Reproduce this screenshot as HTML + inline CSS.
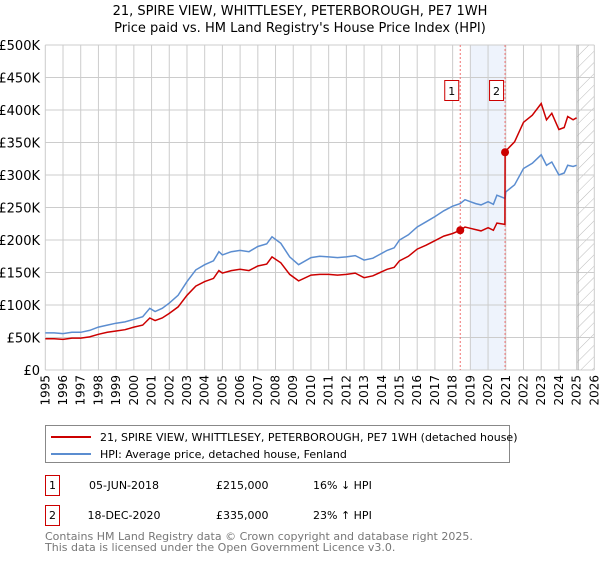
<!DOCTYPE html>
<html><head><meta charset="utf-8"><style>
body{margin:0;background:#fff;font-family:"Liberation Sans","DejaVu Sans",sans-serif;}
svg text{font-family:"DejaVu Sans","Liberation Sans",sans-serif;}
</style></head><body>
<svg id="chart" width="600" height="560" xmlns="http://www.w3.org/2000/svg">
<defs><pattern id="hatch" width="8" height="8" patternUnits="userSpaceOnUse" patternTransform="rotate(45)"><line x1="0" y1="0" x2="0" y2="8" stroke="#bbb" stroke-width="1"/></pattern></defs>
<text x="300" y="15" text-anchor="middle" font-size="13">21, SPIRE VIEW, WHITTLESEY, PETERBOROUGH, PE7 1WH</text>
<text x="300" y="32" text-anchor="middle" font-size="13">Price paid vs. HM Land Registry's House Price Index (HPI)</text>
<g id="plot"></g>
<g>
<rect x="45.5" y="425.5" width="464" height="37" fill="#fff" stroke="#888"/>
<line x1="51" y1="437" x2="91" y2="437" stroke="#cc0000" stroke-width="2"/>
<text x="100" y="441" font-size="11">21, SPIRE VIEW, WHITTLESEY, PETERBOROUGH, PE7 1WH (detached house)</text>
<line x1="51" y1="454" x2="91" y2="454" stroke="#5b8dd0" stroke-width="2"/>
<text x="100" y="458" font-size="11">HPI: Average price, detached house, Fenland</text>
</g>
<g font-size="11">
<rect x="45.5" y="475.5" width="14" height="20" fill="#fff" stroke="#cc0000"/>
<text x="52.5" y="489" text-anchor="middle">1</text>
<text x="124" y="489" text-anchor="middle">05-JUN-2018</text>
<text x="216" y="489">£215,000</text>
<text x="313" y="489">16% ↓ HPI</text>
<rect x="45.5" y="505.5" width="14" height="20" fill="#fff" stroke="#cc0000"/>
<text x="52.5" y="519" text-anchor="middle">2</text>
<text x="124" y="519" text-anchor="middle">18-DEC-2020</text>
<text x="216" y="519">£335,000</text>
<text x="313" y="519">23% ↑ HPI</text>
</g>
<text x="45" y="540" font-size="11" fill="#777">Contains HM Land Registry data © Crown copyright and database right 2025.</text>
<text x="45" y="551" font-size="11" fill="#777">This data is licensed under the Open Government Licence v3.0.</text>
</svg>
<script>
const hpiYears=[1995,1995.5,1996,1996.5,1997,1997.5,1998,1998.5,1999,1999.5,2000,2000.5,2000.9,2001.2,2001.6,2002,2002.5,2003,2003.5,2004,2004.5,2004.8,2005,2005.5,2006,2006.5,2007,2007.5,2007.8,2008.3,2008.8,2009.3,2010,2010.5,2011,2011.5,2012,2012.5,2013,2013.5,2014.3,2014.7,2015,2015.5,2016,2016.5,2017,2017.5,2018,2018.43,2018.7,2019,2019.3,2019.6,2020,2020.3,2020.5,2020.96,2021,2021.5,2022,2022.5,2023,2023.3,2023.6,2024,2024.3,2024.5,2024.8,2025];
const hpiValues=[57,57,56,58,58,61,66,69,72,74,78,82,95,90,95,103,115,136,154,162,168,182,177,182,184,182,190,194,205,195,174,162,173,175,174,173,174,176,169,172,184,188,200,208,220,228,236,245,252,256,262,259,256,254,259,255,269,264,274,285,310,318,331,315,320,300,303,315,313,315];
const ppYears=[1995,1995.5,1996,1996.5,1997,1997.5,1998,1998.5,1999,1999.5,2000,2000.5,2000.9,2001.2,2001.6,2002,2002.5,2003,2003.5,2004,2004.5,2004.8,2005,2005.5,2006,2006.5,2007,2007.5,2007.8,2008.3,2008.8,2009.3,2010,2010.5,2011,2011.5,2012,2012.5,2013,2013.5,2014.3,2014.7,2015,2015.5,2016,2016.5,2017,2017.5,2018,2018.43,2018.7,2019,2019.3,2019.6,2020,2020.3,2020.5,2020.95,2020.96,2021,2021.5,2022,2022.5,2023,2023.3,2023.6,2024,2024.3,2024.5,2024.8,2025];
const ppValues=[48,48,47,49,49,51,55,58,60,62,66,69,80,76,80,87,97,115,129,136,141,153,149,153,155,153,160,163,174,165,147,137,146,147,147,146,147,149,142,145,155,158,168,175,186,192,199,206,210,215,220,218,216,214,219,215,226,224,335,337,351,381,392,410,385,395,370,373,390,385,388];
const yTicks=[0,50,100,150,200,250,300,350,400,450,500];
const yTickLabels=["£0","£50K","£100K","£150K","£200K","£250K","£300K","£350K","£400K","£450K","£500K"];
const xTicks=[1995,1996,1997,1998,1999,2000,2001,2002,2003,2004,2005,2006,2007,2008,2009,2010,2011,2012,2013,2014,2015,2016,2017,2018,2019,2020,2021,2022,2023,2024,2025,2026];
const saleYears=[2018.43,2020.96];
const saleValues=[215,335];
const saleLabels=["1","2"];

const NS="http://www.w3.org/2000/svg";
const X=y=>45.3+(y-1995)*17.71;
const Y=v=>370-v*0.65;
const plot=document.getElementById('plot');
function mk(tag,attrs,parent){const e=document.createElementNS(NS,tag);for(const k in attrs)e.setAttribute(k,attrs[k]);(parent||plot).appendChild(e);return e;}
// shading between sales
const shade=mk('rect',{x:X(2019),y:Y(500),width:X(saleYears[1])-X(2019),height:Y(0)-Y(500),fill:'#eef3fc'});


const hatch=mk('rect',{x:X(2025),y:Y(500),width:X(2026)-X(2025),height:Y(0)-Y(500),fill:'url(#hatch)'});


// grid
xTicks.forEach(t=>{
 const l=mk('line',{x1:X(t),x2:X(t),y1:Y(500),y2:Y(0),stroke:'#ccc','stroke-width':1});
 
 
 const tx=mk('text',{x:0,y:0,'font-size':12,transform:`translate(${X(t)+4},${Y(0)+5}) rotate(-90)`,'text-anchor':'end'});
 tx.textContent=t;
 
 
});
yTicks.forEach((t,i)=>{
 const l=mk('line',{x1:X(1995),x2:X(2026),y1:Y(t),y2:Y(t),stroke:'#ccc','stroke-width':1});
 
 
 const tx=mk('text',{x:40,y:Y(t)+5,'font-size':13,'text-anchor':'end'});
 tx.textContent=yTickLabels[i];
 
 
});
const edge=mk('line',{x1:X(2025)+1.5,x2:X(2025)+1.5,y1:Y(500),y2:Y(0),stroke:'#aaa','stroke-width':1});


// dashed sale lines
saleYears.forEach((s,i)=>{
 const l=mk('line',{x1:X(s),x2:X(s),y1:Y(500),y2:Y(0),stroke:'#f07070','stroke-width':1,'stroke-dasharray':'2,2'});
 
 
 const b=mk('rect',{x:X(s)-15.5,y:80.5,width:14,height:20,fill:'#fff',stroke:'#cc0000'});
 
 
 const t=mk('text',{x:X(s)-8.5,y:95,'font-size':11,'text-anchor':'middle'});
 t.textContent=saleLabels[i];
 
 
});
function path(xs,vs){return xs.map((y,i)=>(i?'L':'M')+X(y).toFixed(1)+','+Y(vs[i]).toFixed(1)).join('');}
const hp=mk('path',{d:path(hpiYears,hpiValues),fill:'none',stroke:'#5b8dd0','stroke-width':1.5});


const pp=mk('path',{d:path(ppYears,ppValues),fill:'none',stroke:'#cc0000','stroke-width':1.5});


saleYears.forEach((s,i)=>{
 const c=mk('circle',{cx:X(s),cy:Y(saleValues[i]),r:4,fill:'#cc0000'});
 
 
});
</script>
</body></html>
